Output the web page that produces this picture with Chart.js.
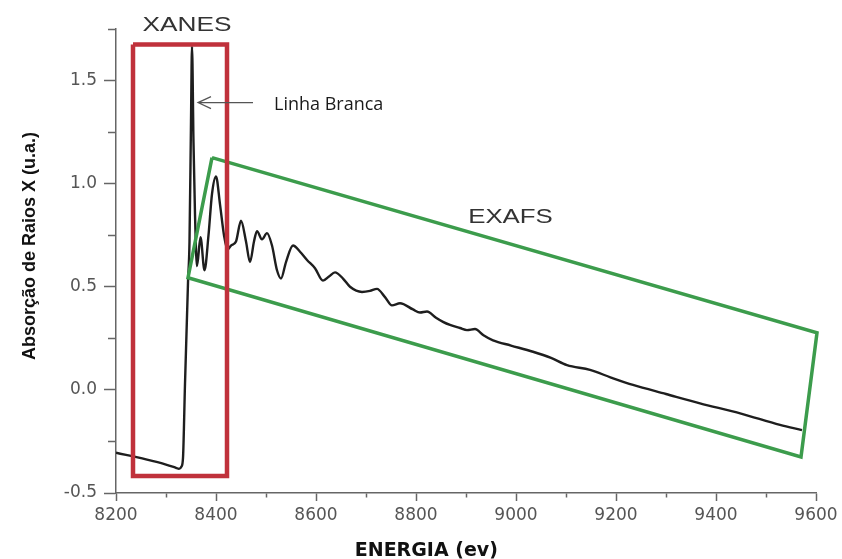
<!DOCTYPE html>
<html lang="pt">
<head>
<meta charset="utf-8">
<title>Absorção de Raios X</title>
<script src="https://cdn.jsdelivr.net/npm/chart.js@4.4.1/dist/chart.umd.min.js"></script>
<style>
  html, body { margin: 0; padding: 0; background: #fff; }
  #wrap { width: 842px; height: 559px; position: relative; }
</style>
</head>
<body>
<div id="wrap"><canvas id="grafico"></canvas></div>
<script>
// espectro de absorção (energia em eV, absorção em u.a.)
const energia = [8200, 8260, 8300, 8320, 8326, 8331, 8334, 8338, 8344, 8347, 8350, 8352, 8355, 8358, 8362, 8369, 8377, 8385, 8392, 8400,
  8408, 8416, 8423, 8430, 8440, 8450, 8460, 8468, 8476, 8482, 8492, 8502, 8512, 8522, 8530, 8540, 8554, 8568, 8582, 8598,
  8614, 8626, 8638, 8654, 8668, 8692, 8708, 8722, 8738, 8752, 8768, 8794, 8808, 8822, 8840, 8854, 8868, 8888, 8902, 8918,
  8935, 8954, 8990, 9034, 9070, 9102, 9148, 9190, 9234, 9300, 9368, 9450, 9528, 9572];
const absorcao = [-0.305, -0.337, -0.362, -0.378, -0.383, -0.372, -0.33, 0.03, 0.52, 0.72, 1.3, 1.665, 1.2, 0.85, 0.60, 0.74, 0.58, 0.75, 0.95, 1.035,
  0.9, 0.75, 0.68, 0.70, 0.72, 0.82, 0.72, 0.62, 0.72, 0.77, 0.73, 0.76, 0.70, 0.58, 0.54, 0.62, 0.70, 0.67, 0.63, 0.59,
  0.53, 0.55, 0.57, 0.54, 0.50, 0.475, 0.48, 0.49, 0.45, 0.41, 0.42, 0.39, 0.375, 0.38, 0.35, 0.33, 0.315, 0.30, 0.29, 0.295,
  0.265, 0.24, 0.215, 0.185, 0.155, 0.12, 0.097, 0.06, 0.024, -0.02, -0.065, -0.115, -0.17, -0.195];

// regiões XANES e EXAFS (contornos fechados)
const xanesE = [8234, 8422, 8422, 8234, 8234];
const xanesA = [1.675, 1.675, -0.417, -0.417, 1.675];
const exafsE = [8392, 9602, 9570, 8344, 8392];
const exafsA = [1.126, 0.277, -0.325, 0.544, 1.126];

const pontos = (xs, ys) => xs.map((x, i) => ({ x, y: ys[i] }));
const meio = v => Math.abs(v * 2 - Math.round(v * 2)) < 1e-6;   // múltiplos de 0.5
const cinza = '#666';

function esticado(ctx, texto, x, y, sx) {
  ctx.save();
  ctx.translate(x, y);
  ctx.scale(sx, 1);
  ctx.fillText(texto, 0, 0);
  ctx.restore();
}

const anotacoes = {
  id: 'anotacoes',
  afterDatasetsDraw(chart) {
    const { ctx, scales: { x, y } } = chart;
    ctx.save();
    ctx.fillStyle = '#333';
    ctx.textAlign = 'center';
    ctx.textBaseline = 'middle';
    ctx.font = '21px "Liberation Sans", Arial, sans-serif';
    esticado(ctx, 'XANES', x.getPixelForValue(8342), y.getPixelForValue(1.77), 1.25);
    esticado(ctx, 'EXAFS', x.getPixelForValue(8989), y.getPixelForValue(0.837), 1.23);

    // seta apontando o pico
    const ponta = x.getPixelForValue(8364), cauda = x.getPixelForValue(8474), py = y.getPixelForValue(1.393);
    ctx.strokeStyle = '#555';
    ctx.lineWidth = 1.2;
    ctx.beginPath();
    ctx.moveTo(cauda, py);
    ctx.lineTo(ponta, py);
    ctx.moveTo(ponta + 13, py - 6);
    ctx.lineTo(ponta, py);
    ctx.lineTo(ponta + 13, py + 6);
    ctx.stroke();

    ctx.font = '18px "Open Sans", sans-serif';
    ctx.textAlign = 'left';
    ctx.fillStyle = '#1a1a1a';
    ctx.fillText('Linha Branca', x.getPixelForValue(8516), py + 2);
    ctx.restore();
  }
};

new Chart(document.getElementById('grafico'), {
  type: 'scatter',
  data: {
    datasets: [
      { data: pontos(xanesE, xanesA), showLine: true, borderColor: '#c0313b', borderWidth: 4.5, pointRadius: 0,
        tension: 0, borderJoinStyle: 'miter', clip: false, order: 1 },
      { data: pontos(exafsE, exafsA), showLine: true, borderColor: '#3c9c4c', borderWidth: 3.5, pointRadius: 0,
        tension: 0, borderJoinStyle: 'miter', clip: false, order: 1 },
      { data: pontos(energia, absorcao), showLine: true, borderColor: '#1e1e1e', borderWidth: 2.4, pointRadius: 0,
        cubicInterpolationMode: 'monotone', order: 2 }
    ]
  },
  options: {
    responsive: true,
    maintainAspectRatio: false,
    animation: false,
    layout: { padding: { left: 0, right: 26, top: 29, bottom: 0 } },
    plugins: { legend: { display: false }, tooltip: { enabled: false } },
    scales: {
      x: {
        type: 'linear', min: 8200, max: 9600,
        afterFit: s => { s.height = 66; },
        border: { color: cinza, width: 1.5 },
        grid: { drawOnChartArea: false, tickLength: 8, tickColor: cinza, tickWidth: 1.5,
          tickBorderDash: c => (c.tick && c.tick.value % 200 !== 0) ? [4, 100] : [] },
        ticks: { stepSize: 100, padding: 4, color: '#555', autoSkip: false, maxRotation: 0,
          font: { family: 'DejaVu Sans', size: 17 },
          callback: v => v % 200 === 0 ? String(v) : '' },
        title: { display: true, text: 'ENERGIA (ev)' + ' '.repeat(12), color: '#111',
          font: { family: 'DejaVu Sans', weight: 'bold', size: 19, lineHeight: 0.85 }, padding: { top: 0, bottom: 0 } }
      },
      y: {
        min: -0.5, max: 1.75,
        afterFit: s => { s.width = 116; },
        border: { color: cinza, width: 1.5 },
        grid: { drawOnChartArea: false, tickLength: 12, tickColor: cinza, tickWidth: 1.5,
          tickBorderDash: c => (c.tick && !meio(c.tick.value)) ? [0, 4, 7, 100] : [] },
        ticks: { stepSize: 0.25, padding: 7, color: '#555', autoSkip: false,
          font: { family: 'DejaVu Sans', size: 17 },
          callback: v => meio(v) ? v.toFixed(1) : '' },
        title: { display: true, text: ' '.repeat(6) + 'Absorção de Raios X (u.a.)', color: '#111',
          font: { family: 'Liberation Sans', weight: 'bold', size: 18 }, padding: { top: 19, bottom: 0 } }
      }
    }
  },
  plugins: [anotacoes]
});
</script>
</body>
</html>
